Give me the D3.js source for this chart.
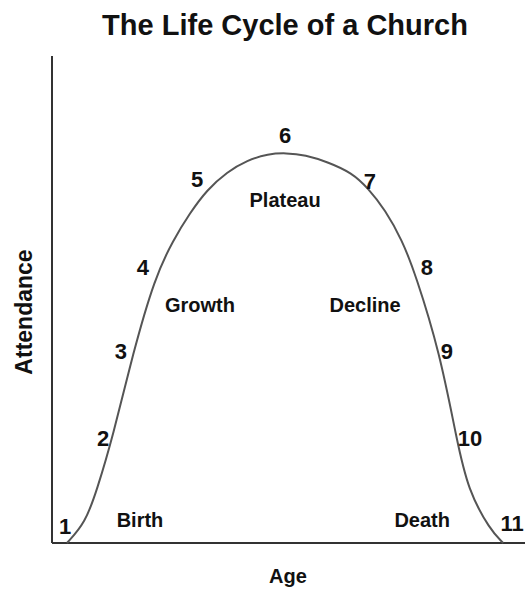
<!DOCTYPE html>
<html>
<head>
<meta charset="utf-8">
<script src="https://cdn.jsdelivr.net/npm/d3@7"></script>
<style>
  body { margin: 0; background: #fff; }
  text { font-family: "Liberation Sans", Arial, sans-serif; font-weight: bold; fill: #111; }
</style>
</head>
<body>
<div id="chart"></div>
<script>
// curve of attendance over age (both 0-100)
var age =        [3.2, 7.1, 9.6, 13.0, 17.3, 22.0, 25.9, 29.5, 33.1, 37.4, 41.7, 46.2, 50.0, 54.1, 59.0, 64.1, 67.5, 71.2, 74.8, 77.6, 82.9, 86.5, 88.9, 93.6, 96.4];
var attendance = [0,   4.1, 10.9, 21.8, 39.0, 54.6, 62.2, 67.8, 72.5, 76.2, 78.6, 79.9, 80.1, 79.7, 78.2, 76.0, 72.9, 68.4, 62.2, 55.4, 39.0, 21.1, 10.9, 2.7, 0];

// numbered points and phase labels (age, attendance)
var numLabels = ['1', '2', '3', '4', '5', '6', '7', '8', '9', '10', '11'];
var numAge =    [2.8, 10.9, 14.7, 19.4, 31.0, 49.8, 67.9, 80.1, 84.4, 89.3, 98.3];
var numAtt =    [3.4, 21.6, 39.4, 56.7, 74.7, 83.8, 74.3, 56.7, 39.4, 21.6, 4.1];

var phases =   ['Birth', 'Growth', 'Plateau', 'Decline', 'Death'];
var phaseAge = [18.8, 31.6, 49.8, 66.9, 79.1];
var phaseAtt = [4.7, 48.9, 70.4, 48.9, 4.7];

(function() {

  init();

  function init() {
    var width = 525;
    var height = 590;

    var svg = d3.select('#chart')
      .append('svg')
      .attr('width', width)
      .attr('height', height);

    var x = d3.scaleLinear().domain([0, 100]).range([52, 520]);
    var y = d3.scaleLinear().domain([0, 100]).range([543, 56]);

    // title
    svg.append('text')
      .attr('x', 285)
      .attr('y', 35)
      .attr('text-anchor', 'middle')
      .style('font-size', '29px')
      .text('The Life Cycle of a Church');

    // axes: plain lines, no ticks
    svg.append('line')
      .attr('x1', x(0)).attr('x2', x(0))
      .attr('y1', y(100)).attr('y2', y(0))
      .attr('stroke', '#333')
      .attr('stroke-width', 2);

    svg.append('line')
      .attr('x1', x(0)).attr('x2', width)
      .attr('y1', y(0)).attr('y2', y(0))
      .attr('stroke', '#333')
      .attr('stroke-width', 2);

    svg.append('text')
      .attr('transform', 'translate(32,312) rotate(-90)')
      .attr('text-anchor', 'middle')
      .style('font-size', '23px')
      .text('Attendance');

    svg.append('text')
      .attr('x', 288)
      .attr('y', 583)
      .attr('text-anchor', 'middle')
      .style('font-size', '20px')
      .text('Age');

    // B-spline smooths out small reading errors in the traced points
    var line = d3.line()
      .x(function(d) { return x(d[0]); })
      .y(function(d) { return y(d[1]); })
      .curve(d3.curveBasis);

    svg.append('path')
      .datum(d3.zip(age, attendance))
      .attr('fill', 'none')
      .attr('stroke', '#555')
      .attr('stroke-width', 2)
      .attr('d', line);

    svg.selectAll('text.num')
      .data(numLabels)
      .enter()
      .append('text')
      .attr('class', 'num')
      .attr('x', function(d, i) { return x(numAge[i]); })
      .attr('y', function(d, i) { return y(numAtt[i]); })
      .attr('dy', '0.35em')
      .attr('text-anchor', 'middle')
      .style('font-size', '22px')
      .text(function(d) { return d; });

    svg.selectAll('text.phase')
      .data(phases)
      .enter()
      .append('text')
      .attr('class', 'phase')
      .attr('x', function(d, i) { return x(phaseAge[i]); })
      .attr('y', function(d, i) { return y(phaseAtt[i]); })
      .attr('dy', '0.35em')
      .attr('text-anchor', 'middle')
      .style('font-size', '20px')
      .text(function(d) { return d; });
  }

})()
</script>
</body>
</html>
